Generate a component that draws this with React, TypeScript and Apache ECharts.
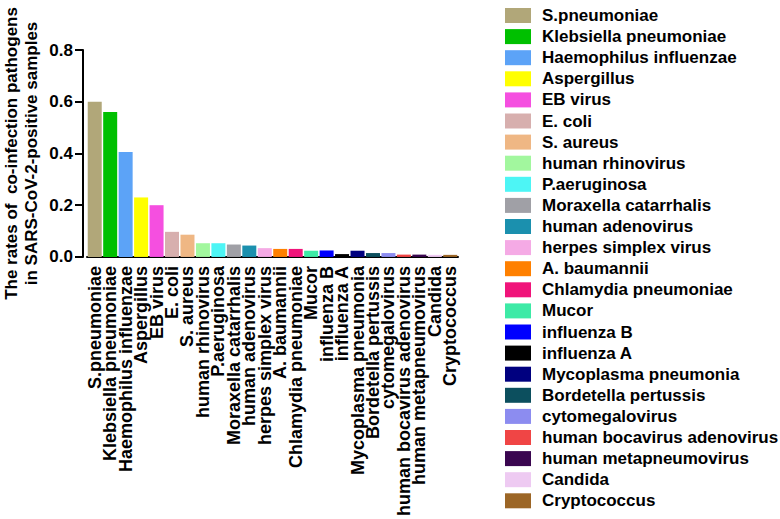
import React, { useEffect, useRef } from 'react';
import * as echarts from 'echarts';

const pathogens = [
  'S.pneumoniae', 'Klebsiella pneumoniae', 'Haemophilus influenzae', 'Aspergillus',
  'EB virus', 'E. coli', 'S. aureus', 'human rhinovirus', 'P.aeruginosa',
  'Moraxella catarrhalis', 'human adenovirus', 'herpes simplex virus', 'A. baumannii',
  'Chlamydia pneumoniae', 'Mucor', 'influenza B', 'influenza A', 'Mycoplasma pneumonia',
  'Bordetella pertussis', 'cytomegalovirus', 'human bocavirus adenovirus',
  'human metapneumovirus', 'Candida', 'Cryptococcus',
];

const rates = [
  0.6, 0.56, 0.406, 0.23, 0.2, 0.097, 0.086, 0.053, 0.053, 0.048, 0.044, 0.034,
  0.031, 0.031, 0.024, 0.025, 0.011, 0.024, 0.015, 0.015, 0.009, 0.009, 0.008, 0.008,
];

const colors = [
  '#B1A779', '#00C000', '#5CA3F7', '#FFFF00', '#F54FE0', '#D7AFAE', '#EFB784',
  '#A2F79E', '#4DF5F5', '#A0A0A6', '#1B90AE', '#F5AAE5', '#FF8000', '#F0147A',
  '#3DEAA6', '#0000FF', '#000000', '#00007F', '#0C4F5E', '#8C8CF0', '#F04545',
  '#3A0650', '#EECAF2', '#9C6626',
];

const yTicks = [0, 0.2, 0.4, 0.6, 0.8];

const FONT = 'Liberation Sans, Arial, sans-serif';

const App: React.FC = () => {
  const chartRef = useRef<HTMLDivElement>(null);

  useEffect(() => {
    if (!chartRef.current) return;
    const myChart = echarts.init(chartRef.current, undefined, { renderer: 'svg' });
    const series = pathogens.map((name, i) => ({
      name,
      type: 'bar',
      stack: 'all',
      barWidth: 14,
      itemStyle: { color: colors[i] },
      data: rates.map((v, j) => (j === i ? v : null)),
    }));
    const option = {
      animation: false,
      textStyle: { fontFamily: FONT },
      grid: { left: 81, right: 322, top: 50, bottom: 255, containLabel: false },
      legend: {
        orient: 'vertical',
        left: 500,
        top: 2,
        height: 517,
        itemWidth: 26,
        itemHeight: 15,
        itemGap: 4.1,
        icon: 'rect',
        data: pathogens,
        textStyle: {
          fontSize: 17,
          fontWeight: 'bold',
          color: '#000',
          padding: [0, 0, 0, 6],
          fontFamily: FONT,
        },
      },
      xAxis: {
        type: 'category',
        data: pathogens,
        axisLine: { lineStyle: { color: '#000', width: 2 } },
        axisTick: { alignWithLabel: true, length: 7, lineStyle: { color: '#000', width: 1.5 } },
        axisLabel: {
          rotate: 90,
          interval: 0,
          margin: 9,
          fontSize: 18,
          fontWeight: 'bold',
          color: '#000',
          fontFamily: FONT,
        },
      },
      yAxis: {
        type: 'value',
        min: yTicks[0],
        max: yTicks[yTicks.length - 1],
        interval: 0.2,
        offset: 4,
        name: 'The rates of  co-infection pathogens\nin SARS-CoV-2-positive samples',
        nameLocation: 'middle',
        nameRotate: 90,
        nameGap: 42,
        nameTextStyle: { fontSize: 17, fontWeight: 'bold', color: '#000', lineHeight: 20, fontFamily: FONT },
        splitLine: { show: false },
        axisLine: { show: true, lineStyle: { color: '#000', width: 2 } },
        axisTick: { show: true, length: 8, lineStyle: { color: '#000', width: 2 } },
        axisLabel: {
          formatter: (v: number) => v.toFixed(1),
          fontSize: 17,
          fontWeight: 'bold',
          color: '#000',
          margin: 10,
          fontFamily: FONT,
        },
      },
      series,
    };
    myChart.setOption(option);
    return () => { myChart.dispose(); };
  }, []);

  return (
    <div
      ref={chartRef}
      style={{ position: 'fixed', left: 0, top: 0, width: 780, height: 519, background: '#fff' }}
    />
  );
};

export default App;
